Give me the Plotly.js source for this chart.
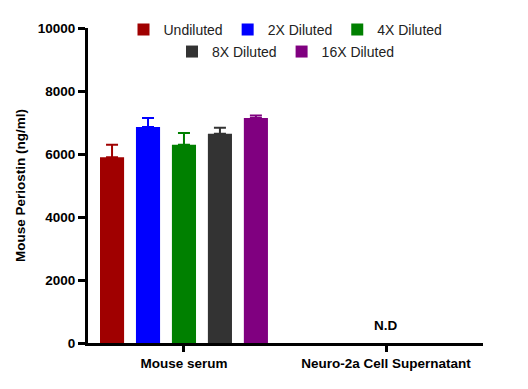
<!DOCTYPE html>
<html>
<head>
<meta charset="utf-8">
<script src="https://cdn.plot.ly/plotly-3.0.1.min.js"></script>
<style>html,body{margin:0;padding:0;background:#fff;}#chart{width:528px;height:389px;}</style>
</head>
<body>
<div id="chart"></div>
<script>
const categories = ['Mouse serum', 'Neuro-2a Cell Supernatant'];
const seriesNames = ['Undiluted', '2X Diluted', '4X Diluted', '8X Diluted', '16X Diluted'];
const undiluted = [5900, null];
const diluted2x = [6860, null];
const diluted4x = [6290, null];
const diluted8x = [6640, null];
const diluted16x = [7145, null];
const err_undiluted = [390, 0];
const err_2x = [280, 0];
const err_4x = [380, 0];
const err_8x = [190, 0];
const err_16x = [75, 0];
const yTicks = [0, 2000, 4000, 6000, 8000, 10000];
const ndLabel = 'N.D';

const values = [undiluted, diluted2x, diluted4x, diluted8x, diluted16x];
const errs = [err_undiluted, err_2x, err_4x, err_8x, err_16x];
const colors = ['#a00000', '#0000ff', '#008000', '#333333', '#800080'];
const legends = ['legend', 'legend', 'legend', 'legend2', 'legend2'];

const traces = seriesNames.map((n, i) => ({
  type: 'bar', name: n, x: categories, y: values[i],
  marker: {color: colors[i]},
  legend: legends[i],
  error_y: {type: 'data', symmetric: false, array: errs[i], arrayminus: [0, 0],
            color: colors[i], thickness: 2, width: 6, visible: true}
}));

const fam = 'Liberation Sans, Arial, sans-serif';
const layout = {
  width: 528, height: 389,
  margin: {l: 88, r: 45, t: 28, b: 46},
  paper_bgcolor: '#fff', plot_bgcolor: '#fff',
  barmode: 'group', bargap: 0.11, bargroupgap: 0.33,
  font: {family: fam, color: '#000'},
  xaxis: {
    range: [-0.475, 1.48], showline: true, linewidth: 3, linecolor: '#000',
    ticks: 'outside', ticklen: 6, tickwidth: 3, tickcolor: '#000',
    tickfont: {family: fam, size: 13.5, color: '#000', weight: 'bold'},
    showgrid: false, zeroline: false
  },
  yaxis: {
    range: [0, 10000], tickvals: yTicks, ticktext: yTicks.map(String),
    showline: true, linewidth: 3, linecolor: '#000',
    ticks: 'outside', ticklen: 7, tickwidth: 3, tickcolor: '#000',
    tickfont: {family: fam, size: 13.5, color: '#000', weight: 'bold'},
    showgrid: false, zeroline: false,
    title: {text: 'Mouse Periostin (ng/ml)', standoff: 10,
            font: {family: fam, size: 13.5, color: '#000', weight: 'bold'}}
  },
  legend: {orientation: 'h', x: 0.5, xanchor: 'center', y: 0.994, yanchor: 'middle',
           font: {family: fam, size: 14, color: '#222'},
           bgcolor: 'rgba(0,0,0,0)', itemclick: false},
  legend2: {orientation: 'h', x: 0.5, xanchor: 'center', y: 0.924, yanchor: 'middle',
           font: {family: fam, size: 14, color: '#222'},
           bgcolor: 'rgba(0,0,0,0)', itemclick: false},
  annotations: [{x: categories[1], y: 570, xref: 'x', yref: 'y', text: ndLabel, showarrow: false,
                 font: {family: fam, size: 13.5, color: '#000', weight: 'bold'}}]
};

Plotly.newPlot('chart', traces, layout, {displayModeBar: false, staticPlot: true});
</script>
</body>
</html>
